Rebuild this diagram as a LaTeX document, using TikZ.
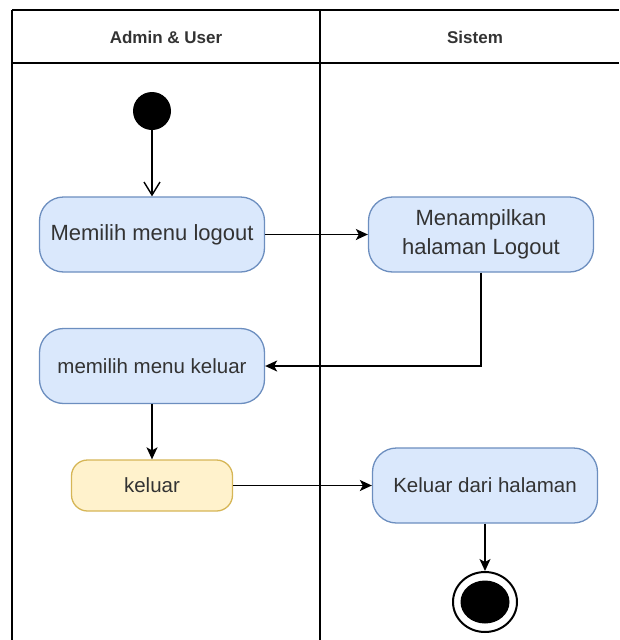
\documentclass[tikz,border=0pt]{standalone}
\usepackage{fontspec}
\setmainfont{Liberation Sans}
\usepackage{tikz}
\usetikzlibrary{arrows.meta,positioning,shapes.geometric}
\definecolor{ActBlue}{HTML}{DAE8FC}
\definecolor{ActBlueLine}{HTML}{6C8EBF}
\definecolor{ActYellow}{HTML}{FFF2CC}
\definecolor{ActYellowLine}{HTML}{D6B656}
\definecolor{ActText}{HTML}{333333}
\tikzset{
  lane/.style={line width=1.5pt,draw=black},
  lanehead/.style={font=\bfseries\fontsize{17}{20}\selectfont,text=ActText},
  act/.style={rectangle,rounded corners=24pt,draw=ActBlueLine,fill=ActBlue,
    line width=1.3pt,minimum width=225pt,minimum height=75pt,align=center,
    text=ActText,font=\fontsize{20.5}{29}\selectfont},
  flow/.style={line width=1.4pt,-{Stealth[length=12pt,width=11pt,inset=3pt]}},
  openflow/.style={line width=1.4pt,-{Straight Barb[length=13pt,width=16pt]}},
}
\begin{document}
\begin{tikzpicture}[x=1pt,y=-1pt]
  \useasboundingbox (0,0) rectangle (619,640);
  \draw[lane] (12,10) -- (619,10);
  \draw[lane] (12,63) -- (619,63);
  \draw[lane] (12,10) -- (12,640);
  \draw[lane] (320,10) -- (320,640);
  \node[lanehead] (laneUser) at (166,37) {Admin \& User};
  \node[lanehead] (laneSistem) at (475,37) {Sistem};

  \node[circle,fill=black,minimum size=38pt,inner sep=0pt] (start) at (152,111) {};
  \node[act,font=\fontsize{22}{29}\selectfont] (pilihLogout) at (152,234.5) {Memilih menu logout};
  \node[act,font=\fontsize{22}{29}\selectfont] (tampilLogout) at (481,234.5) {Menampilkan\\halaman Logout};
  \node[act] (pilihKeluar) at (152,366) {memilih menu keluar};
  \node[act,fill=ActYellow,draw=ActYellowLine,minimum width=161pt,minimum height=51pt,
    rounded corners=16pt] (keluar) at (152,485.5) {keluar};
  \node[act] (keluarHalaman) at (485,485.5) {Keluar dari halaman};
  \node[ellipse,draw=black,line width=2pt,minimum width=64pt,minimum height=60pt,inner sep=0pt] (end) at (485,602) {};
  \fill[black] (end.center) ellipse (24.5 and 21.5);

  \draw[openflow] (start) -- (pilihLogout);
  \draw[flow] (pilihLogout) -- (tampilLogout);
  \draw[flow] (tampilLogout.south) |- (pilihKeluar.east);
  \draw[flow] (pilihKeluar) -- (keluar);
  \draw[flow] (keluar) -- (keluarHalaman);
  \draw[flow] (keluarHalaman) -- (end);
\end{tikzpicture}
\end{document}
